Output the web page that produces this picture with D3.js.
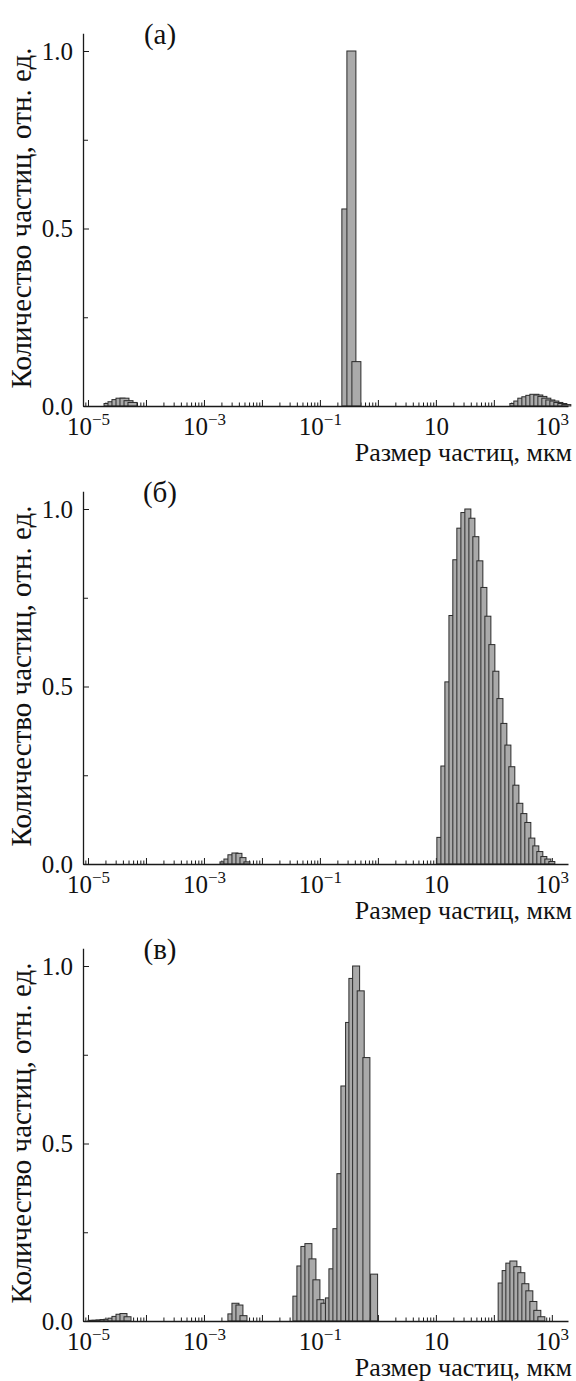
<!DOCTYPE html>
<html>
<head>
<meta charset="utf-8">
<script src="https://cdn.jsdelivr.net/npm/d3@7"></script>
<style>
  body { margin: 0; background: #fff; }
  svg { display: block; }
  svg text { font-family: "Liberation Serif", "Times New Roman", serif; fill: #111; }
</style>
</head>
<body>
<svg id="chart" width="576" height="1381"></svg>
<script>
// Axis labels and ticks
const panelLabels = ["(а)", "(б)", "(в)"];
const xTitle = "Размер частиц, мкм";
const yTitle = "Количество частиц, отн. ед.";
const yTickValues = [0, 0.5, 1.0];
const yTickLabels = ["0.0", "0.5", "1.0"];
const yMinorTickValues = [0.25, 0.75];
const xTickValues = [1e-5, 1e-3, 1e-1, 1e1, 1e3];
const xTickBases = ["10", "10", "10", "10", "10"];
const xTickExponents = ["−5", "−3", "−1", "", "3"];

// Panel (а): particle size, µm, and relative count
const sizesA = [1.89e-5, 2.21e-5, 2.59e-5, 3.04e-5, 3.56e-5, 4.18e-5, 4.89e-5,
                0.239, 0.292, 0.356,
                189, 221, 259, 304, 356, 418, 489, 574, 672, 788, 924, 1083, 1269, 1487];
const valuesA = [0.007, 0.012, 0.018, 0.022, 0.022, 0.015, 0.010,
                 0.555, 1.0, 0.125,
                 0.007, 0.014, 0.022, 0.026, 0.030, 0.033, 0.031, 0.027, 0.022, 0.017, 0.014, 0.010, 0.007, 0.004];

// Panel (б)
const sizesB = [0.00189, 0.00221, 0.00259, 0.00304, 0.00356, 0.00418, 0.00489,
                10.4, 12.2, 14.3, 16.8, 19.6, 23.0, 27.0, 31.6, 37.1, 43.4, 50.9, 59.7, 70.0, 82.0,
                96.1, 113, 132, 155, 181, 213, 249, 292, 342, 401, 470, 551, 646, 757, 888];
const valuesB = [0.006, 0.014, 0.026, 0.031, 0.030, 0.018, 0.006,
                 0.075, 0.276, 0.513, 0.700, 0.857, 0.946, 0.990, 1.0, 0.974, 0.922, 0.854, 0.779, 0.698, 0.618,
                 0.543, 0.466, 0.396, 0.335, 0.274, 0.222, 0.171, 0.142, 0.117, 0.073, 0.051, 0.035, 0.021, 0.014, 0.007];

// Panel (в)
const sizesC = [1.00e-5, 1.17e-5, 1.37e-5, 1.61e-5, 1.89e-5, 2.21e-5, 2.59e-5, 3.04e-5, 3.56e-5, 4.18e-5,
                0.00259, 0.00304, 0.00356, 0.00418,
                0.0342, 0.0401, 0.0470, 0.0551, 0.0646, 0.0757, 0.0888, 0.104,
                0.1244, 0.143, 0.1675, 0.1964, 0.2302, 0.2773, 0.3162, 0.3664, 0.4396, 0.5512, 0.748,
                118.6, 139.0, 161.0, 189, 221, 259, 304, 356, 418, 489, 574];
const valuesC = [0.002, 0.002, 0.003, 0.004, 0.005, 0.008, 0.013, 0.019, 0.021, 0.012,
                 0.020, 0.050, 0.045, 0.015,
                 0.070, 0.155, 0.210, 0.218, 0.175, 0.116, 0.060, 0.050,
                 0.065, 0.147, 0.260, 0.415, 0.662, 0.841, 0.965, 1.0, 0.930, 0.742, 0.132,
                 0.107, 0.142, 0.163, 0.169, 0.153, 0.136, 0.105, 0.085, 0.055, 0.030, 0.012];

const panels = [
  { label: panelLabels[0], sizes: sizesA, values: valuesA, base: 406, barWidth: 9 },
  { label: panelLabels[1], sizes: sizesB, values: valuesB, base: 864, barWidth: 6 },
  { label: panelLabels[2], sizes: sizesC, values: valuesC, base: 1321, barWidth: 7 }
];

const svg = d3.select("#chart");
const unitHeight = 355;
const yMax = 1.05;
const xScale = d3.scaleLog().domain([8.2e-6, 1900]).range([83, 568]);
const axisColor = "#1a1a1a";
const serif = '"Liberation Serif", "Times New Roman", serif';

// Minor tick positions on the log axis: 2..9 within each decade
const [dMin, dMax] = xScale.domain();
const minorX = [];
for (let e = Math.floor(Math.log10(dMin)); e <= Math.ceil(Math.log10(dMax)); e++) {
  for (let m = 2; m <= 9; m++) {
    const v = m * Math.pow(10, e);
    if (v >= dMin && v <= dMax) minorX.push(v);
  }
}
const majorX = [];
for (let e = -5; e <= 3; e++) majorX.push(Math.pow(10, e));

panels.forEach(p => {
  const y = d3.scaleLinear().domain([0, yMax]).range([p.base, p.base - yMax * unitHeight]);
  const g = svg.append("g");

  // x-axis minor ticks (inward)
  g.append("g")
    .attr("transform", `translate(0,${p.base})`)
    .call(d3.axisBottom(xScale).tickValues(minorX).tickSizeInner(-3.5).tickSizeOuter(0).tickFormat(""))
    .call(a => a.select(".domain").remove())
    .call(a => a.selectAll("line").attr("stroke", axisColor));

  // x-axis major ticks
  g.append("g")
    .attr("transform", `translate(0,${p.base})`)
    .call(d3.axisBottom(xScale).tickValues(majorX).tickSizeInner(-6).tickSizeOuter(0).tickFormat(""))
    .call(a => a.select(".domain").remove())
    .call(a => a.selectAll("line").attr("stroke", axisColor));

  // bars, drawn left to right so each one overlaps its left neighbour
  const data = p.sizes.map((d, i) => ({ size: d, value: p.values[i] }));
  g.append("g")
    .selectAll("rect")
    .data(data)
    .join("rect")
    .attr("x", d => xScale(d.size))
    .attr("y", d => y(d.value))
    .attr("width", p.barWidth)
    .attr("height", d => p.base - y(d.value))
    .attr("fill", "#aaaaaa")
    .attr("stroke", "#2b2b2b")
    .attr("stroke-width", 1);

  // x-axis line and labels
  const xAxis = g.append("g")
    .attr("transform", `translate(0,${p.base})`)
    .call(d3.axisBottom(xScale).tickValues(xTickValues).tickSize(0).tickPadding(0).tickFormat(""))
    .call(a => a.select(".domain").attr("stroke", axisColor).attr("stroke-width", 1.3));
  xAxis.selectAll(".tick").each(function (d, i) {
    const t = d3.select(this).append("text")
      .attr("y", 29)
      .attr("text-anchor", "middle")
      .style("font-family", serif)
      .style("font-size", "25px")
      .attr("fill", "#111");
    t.append("tspan").text(xTickBases[i]);
    if (xTickExponents[i]) {
      t.append("tspan").attr("dy", -10).style("font-size", "17px").text(xTickExponents[i]);
    }
  });

  // y-axis
  g.append("g")
    .attr("transform", `translate(${xScale.range()[0]},0)`)
    .call(d3.axisLeft(y).tickValues(yMinorTickValues).tickSizeInner(-5).tickSizeOuter(0).tickFormat(""))
    .call(a => a.select(".domain").remove())
    .call(a => a.selectAll("line").attr("stroke", axisColor));
  g.append("g")
    .attr("transform", `translate(${xScale.range()[0]},0)`)
    .call(d3.axisLeft(y).tickValues(yTickValues).tickSizeInner(-6).tickSizeOuter(0).tickPadding(10)
      .tickFormat((d, i) => yTickLabels[i]))
    .call(a => a.select(".domain").attr("stroke", axisColor).attr("stroke-width", 1.3))
    .call(a => a.selectAll("line").attr("stroke", axisColor))
    .call(a => a.selectAll("text").style("font-size", "25px").attr("fill", "#111")
      .style("font-family", serif));

  // titles
  g.append("text")
    .attr("x", 572).attr("y", p.base + 55)
    .attr("text-anchor", "end")
    .style("font-family", serif)
    .style("font-size", "26px")
    .text(xTitle);
  g.append("text")
    .attr("transform", `translate(31,${p.base - 188}) rotate(-90)`)
    .attr("text-anchor", "middle")
    .style("font-family", serif)
    .style("font-size", "29px")
    .text(yTitle);
  g.append("text")
    .attr("x", 160).attr("y", p.base - 362)
    .attr("text-anchor", "middle")
    .style("font-family", serif)
    .style("font-size", "29px")
    .text(p.label);
});
</script>
</body>
</html>
